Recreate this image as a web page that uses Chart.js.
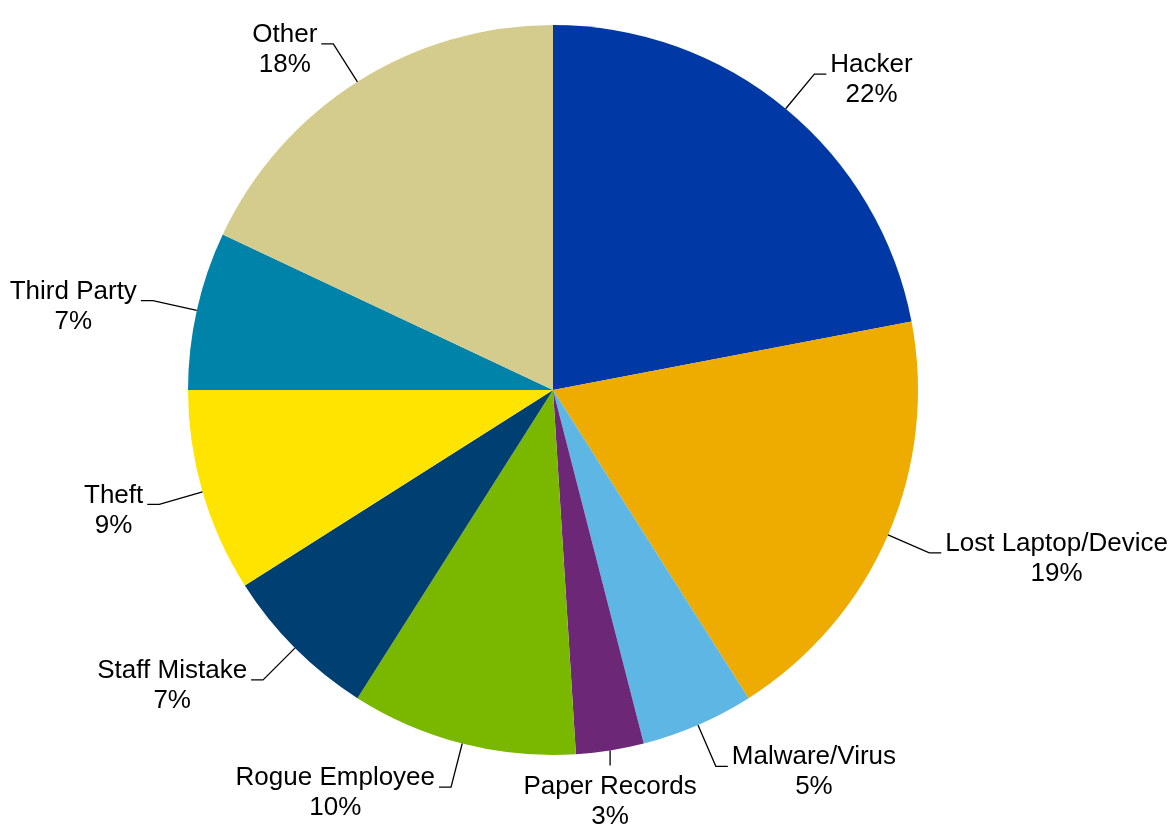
<!DOCTYPE html>
<html>
<head>
<meta charset="utf-8">
<script src="https://cdn.jsdelivr.net/npm/chart.js@4.4.0/dist/chart.umd.min.js"></script>
<style>
    html, body { margin: 0; padding: 0; background: #ffffff; }
    #breach-chart-wrap { width: 1176px; height: 830px; }
</style>
</head>
<body>
<div id="breach-chart-wrap"><canvas id="breach-chart" width="1176" height="830"></canvas></div>
<script>
let causeLabels = ["Hacker", "Lost Laptop/Device", "Malware/Virus", "Paper Records",
    "Rogue Employee", "Staff Mistake", "Theft", "Third Party", "Other"];
let causeShares = [22, 19, 5, 3, 10, 7, 9, 7, 18];
let sliceColors = ["#0039a6", "#eeab00", "#5eb6e4", "#6c2777", "#7ab800",
    "#003f72", "#ffe400", "#0083a9", "#d3cc8d"];

const labelFont = '26px "Liberation Sans", Arial, sans-serif';
const lineGap = 30;

// draws "Name / NN%" outside each slice with a bent leader line
const outsideLabels = {
    id: "outsideLabels",
    afterDatasetsDraw: function (chart) {
        let ctx = chart.ctx;
        let meta = chart.getDatasetMeta(0);
        ctx.save();
        ctx.font = labelFont;
        ctx.fillStyle = "#000000";
        ctx.strokeStyle = "#000000";
        ctx.lineWidth = 1.3;
        ctx.textAlign = "center";
        ctx.textBaseline = "middle";
        meta.data.forEach(function (arc, i) {
            let p = arc.getProps(["x", "y", "startAngle", "endAngle", "outerRadius"], true);
            let mid = (p.startAngle + p.endAngle) / 2;
            let cos = Math.cos(mid);
            let sin = Math.sin(mid);
            let sx = p.x + p.outerRadius * cos;
            let sy = p.y + p.outerRadius * sin;
            let lines = [chart.data.labels[i], chart.data.datasets[0].data[i] + "%"];
            let width = Math.max.apply(null, lines.map(function (t) {
                return ctx.measureText(t).width;
            }));
            let tx, ty;
            ctx.beginPath();
            ctx.moveTo(sx, sy);
            if (Math.abs(cos) < 0.2 && sin > 0) {
                // slice at the bottom: short drop, label underneath
                ctx.lineTo(sx, sy + 15);
                tx = sx;
                ty = sy + 51;
            } else {
                let ex = sx + 45 * cos;
                let ey = sy + 45 * sin;
                let dir = cos >= 0 ? 1 : -1;
                ctx.lineTo(ex, ey);
                ctx.lineTo(ex + 12 * dir, ey);
                tx = ex + dir * (16 + width / 2);
                ty = ey + 6;
            }
            ctx.stroke();
            ctx.fillText(lines[0], tx, ty - lineGap / 2);
            ctx.fillText(lines[1], tx, ty + lineGap / 2);
        });
        ctx.restore();
    },
};

let canvas = document.getElementById("breach-chart");
window.breachChart = new Chart(canvas, {
    type: "pie",
    data: {
        labels: causeLabels,
        datasets: [
            {
                data: causeShares,
                backgroundColor: sliceColors,
                borderWidth: 0,
                hoverOffset: 0,
            },
        ],
    },
    options: {
        responsive: false,
        animation: false,
        layout: {
            padding: { left: 188, right: 258, top: 25, bottom: 75 },
        },
        plugins: {
            legend: false,
            tooltip: { enabled: false },
        },
    },
    plugins: [outsideLabels],
});
</script>
</body>
</html>
